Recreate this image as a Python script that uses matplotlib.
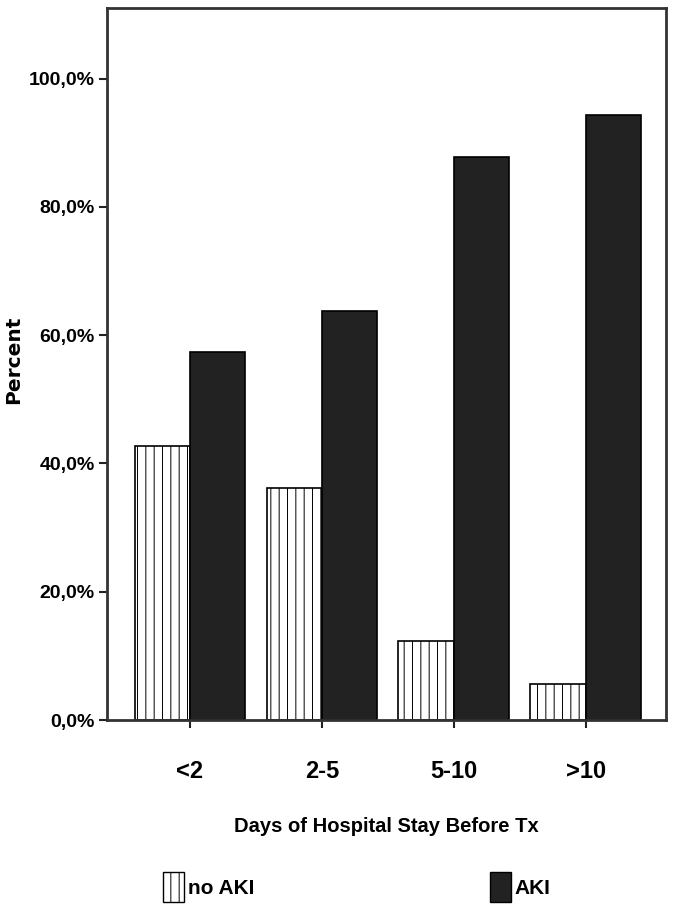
import matplotlib
matplotlib.use("Agg")
import matplotlib.pyplot as plt
import matplotlib.font_manager as fm
from matplotlib.patches import Patch
import numpy as np

categories = ["<2", "2-5", "5-10", ">10"]
no_aki = [42.7, 36.2, 12.3, 5.6]
aki = [57.3, 63.8, 87.7, 94.3]
yticks = [0, 20, 40, 60, 80, 100]
ytick_labels = ["0,0%", "20,0%", "40,0%", "60,0%", "80,0%", "100,0%"]

names = {f.name for f in fm.fontManager.ttflist}
fam = ["Liberation Sans Narrow"] if "Liberation Sans Narrow" in names else ["Liberation Sans"]
plt.rcParams['font.family'] = fam + ["DejaVu Sans"]
plt.rcParams['hatch.color'] = '#666666'
plt.rcParams['hatch.linewidth'] = 0.7

fig = plt.figure(figsize=(6.75, 9.09), dpi=100)
ax = fig.add_axes([107/675, 1 - 720/909, (666-107)/675, (720-8)/909])

x = np.arange(len(categories))
w = 0.42
ax.bar(x - w/2, no_aki, width=w, color='white', edgecolor='black', linewidth=1.2, hatch='||')
ax.bar(x + w/2, aki, width=w, color='#222222', edgecolor='black', linewidth=1.2)

ax.set_xlim(-0.63, 3.61)
ax.set_ylim(0, 111)
ax.set_yticks(yticks)
ax.set_yticklabels(ytick_labels, fontsize=14, fontweight='bold')
ax.set_xticks(x)
ax.set_xticklabels(categories, fontsize=17, fontweight='bold')
ax.tick_params(axis='both', length=6, width=1.5, color='#222222', pad=3)
ax.tick_params(axis='x', pad=23)
for s in ax.spines.values():
    s.set_linewidth(2)
    s.set_color('#333333')

ax.set_xlabel("Days of Hospital Stay Before Tx", fontsize=14.5, fontweight='bold', labelpad=24)
fig.text(14/675, 1 - 360/909, "Percent", rotation=90, fontsize=14.5, fontweight='bold',
         ha='center', va='center', family=['DejaVu Sans'])

handles = [Patch(facecolor='white', edgecolor='black', hatch='||', label='no AKI'),
           Patch(facecolor='#222222', edgecolor='black', label='AKI')]
leg = fig.legend(handles=handles, loc='center left', bbox_to_anchor=(163/675, 1 - 887/909), ncol=2,
                 frameon=False, prop={'weight': 'bold', 'size': 15},
                 handlelength=1.0, handleheight=1.8, handletextpad=0.2, columnspacing=11.3,
                 borderpad=0, borderaxespad=0)

fig.savefig("out.png", dpi=100)
